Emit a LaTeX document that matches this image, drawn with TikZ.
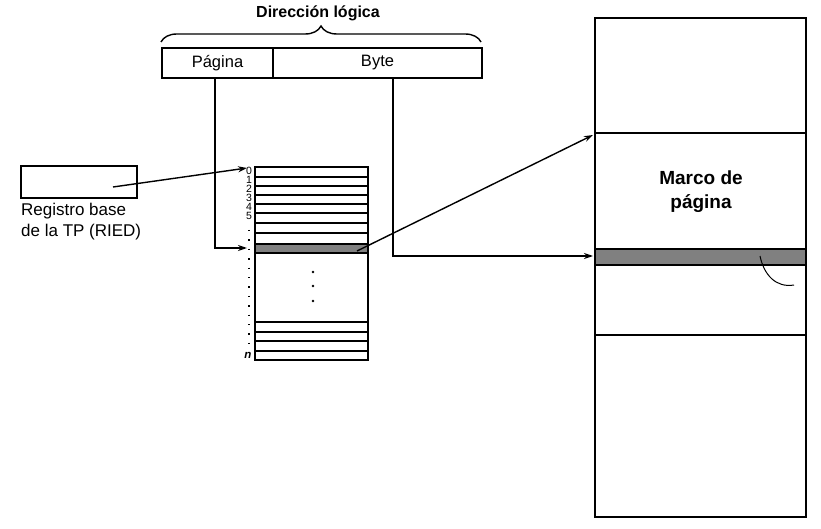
\documentclass[tikz,border=0pt]{standalone}
\usepackage{fontspec}
\setmainfont{Liberation Sans}
\usetikzlibrary{arrows.meta,decorations.pathreplacing}
\tikzset{
  box/.style={draw, line width=2.2pt, inner sep=0pt, outer sep=0pt},
  rowline/.style={line width=1.6pt},
  conn/.style={line width=1.4pt, -{Stealth[length=9pt,width=6pt]}},
  lbl/.style={font=\fontsize{17}{20}\selectfont, inner sep=0pt},
  blbl/.style={font=\fontsize{16}{19}\selectfont\bfseries, inner sep=0pt, align=center},
  num/.style={font=\fontsize{10.5}{10}\selectfont, inner sep=0pt},
  band/.style={draw, line width=1.6pt, fill=black!50}
}
\begin{document}
\begin{tikzpicture}[x=1pt,y=-1pt]
\useasboundingbox (0,0) rectangle (821,529);
% logical address
\node[blbl] (title) at (318,13) {Dirección lógica};
\draw[line width=1.4pt, decorate, decoration={brace, amplitude=16pt}] (161,42) -- (481,42);
\node[box, minimum width=111pt, minimum height=30pt, anchor=north west, lbl, font=\fontsize{16.5}{19}\selectfont] (pag) at (162,48) {Página};
\node[box, minimum width=209pt, minimum height=30pt, anchor=north west, lbl, font=\fontsize{16.5}{19}\selectfont] (byte) at (273,48) {Byte};
% register
\node[box, minimum width=116pt, minimum height=32pt, anchor=north west] (reg) at (21,166) {};
\node[lbl, anchor=north west, align=left] (reglbl) at (21,203) {Registro base\\[1pt]de la TP (RIED)};
% page table
\node[box, minimum width=113pt, minimum height=193pt, anchor=north west] (tp) at (255,167) {};
\foreach \yy in {177,186,195,204,213,223,233,322,332,341,351}
  \draw[rowline] (tp.west |- 0,\yy) -- (tp.east |- 0,\yy);
\draw[band] (255,244) rectangle (368,253);
\foreach \yy in {272,286,301} \fill (313,\yy) circle (1.4pt);
\foreach \n [count=\i from 0] in {0,...,5}
  \node[num] (n\n) at (249,{171+9*\i}) {\n};
\draw[line width=1.4pt, dash pattern=on 1.4pt off 8pt] (249,230) -- (249,346);
\node[num, font=\fontsize{11.5}{10}\selectfont\bfseries\itshape] (nn) at (248,355) {n};
\coordinate (tp0) at (247,168);
\coordinate (tpsel) at (247,248);
\coordinate (tpsrc) at (357,251);
% memory
\node[box, minimum width=211pt, minimum height=499pt, anchor=north west] (mem) at (595,18) {};
\draw[rowline, line width=1.8pt] (595,133) -- (806,133);
\draw[rowline, line width=1.8pt] (595,335) -- (806,335);
\draw[band, line width=1.8pt] (595,249) rectangle (806,265);
\node[blbl, font=\fontsize{19}{24}\selectfont\bfseries] (marco) at (701,192) {Marco de\\página};
\coordinate (memtop) at (593,135);
\coordinate (memsel) at (593,256);
\draw[line width=1pt] (760,256) .. controls (764,275) and (776,288) .. (794,285);
% connectors
\draw[conn] (113,187) -- (tp0);
\draw[conn] (pag.south -| 215,0) -- (215,248) -- (tpsel);
\draw[conn] (byte.south -| 393,0) -- (393,256) -- (memsel);
\draw[conn] (tpsrc) -- (memtop);
\end{tikzpicture}
\end{document}
